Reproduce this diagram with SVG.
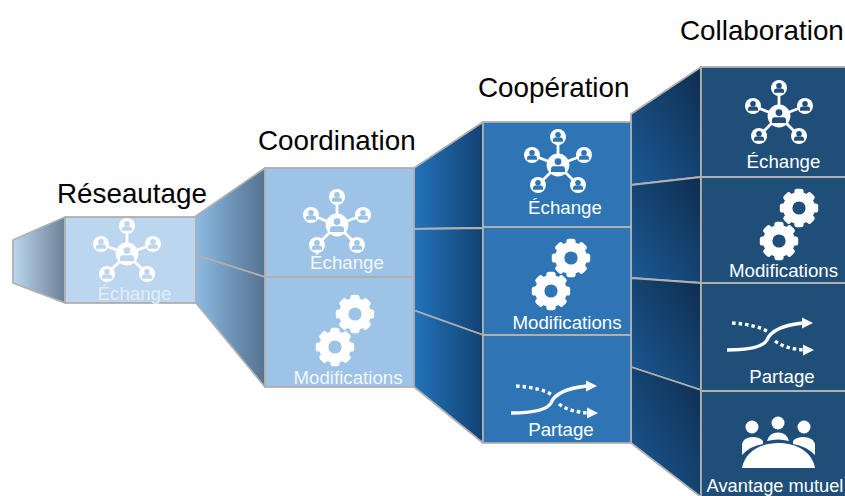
<svg xmlns="http://www.w3.org/2000/svg" xmlns:xlink="http://www.w3.org/1999/xlink" width="845" height="496" viewBox="0 0 845 496">
<style>
text{font-family:"Liberation Sans",Arial,sans-serif}
.title{font-size:27.8px;fill:#000}
.label{font-size:18.7px;fill:#fff;text-anchor:middle}
.panel{stroke:#b0b0b0;stroke-width:1.8;stroke-linejoin:round}
.box{stroke:#b0b0b0;stroke-width:1.8}
.s1{color:#bbd6ee}.s2{color:#9dc3e6}.s3{color:#2e75b6}.s4{color:#1f4e79}
.div{stroke:#b0b0b0;stroke-width:1.8}
</style>
<defs>
<linearGradient id="g1" x1="0" x2="1" y1="0" y2="0"><stop offset="0" stop-color="#bcd6ef"/><stop offset="1" stop-color="#6b8296"/></linearGradient>
<linearGradient id="g2" x1="0" x2="1" y1="0" y2="0"><stop offset="0" stop-color="#8dbae3"/><stop offset="1" stop-color="#53728f"/></linearGradient>
<linearGradient id="g3" x1="0" x2="1" y1="0" y2="0"><stop offset="0" stop-color="#2274bd"/><stop offset="1" stop-color="#124271"/></linearGradient>
<linearGradient id="g4" x1="0" x2="1" y1="1" y2="0"><stop offset="0" stop-color="#1b5a96"/><stop offset="1" stop-color="#0e2d4e"/></linearGradient>
<g id="person"><circle cy="-2.200" r="2.800"/><path d="M-5 4.800v-2q0-2.200 2.200-2.400h5.600q2.200.2 2.200 2.400v2z"/></g>
<g id="sat"><circle r="8" fill="#fff"/><use xlink:href="#person" href="#person" fill="currentColor"/></g>
<g id="hub">
<path d="M0 0V-28M0 0L-26-10M0 0L26-10M0 0L-20 20M0 0L20 20" stroke="#fff" stroke-width="2.800" fill="none"/>
<circle r="11.400" fill="#fff"/>
<g fill="currentColor"><circle cy="-3.400" r="3.400"/><path d="M-7 7v-2.800q0-2.800 2.800-3h8.400q2.800.2 2.800 3v2.800z"/></g>
<use xlink:href="#sat" href="#sat" y="-28"/><use xlink:href="#sat" href="#sat" x="-26" y="-10"/><use xlink:href="#sat" href="#sat" x="26" y="-10"/><use xlink:href="#sat" href="#sat" x="-20" y="20"/><use xlink:href="#sat" href="#sat" x="20" y="20"/>
</g>
<g id="gear"><g fill="#fff"><rect x="-4.600" y="-19.200" width="9.200" height="38.400" rx="2.600"/><rect x="-4.600" y="-19.200" width="9.200" height="38.400" rx="2.600" transform="rotate(45)"/><rect x="-4.600" y="-19.200" width="9.200" height="38.400" rx="2.600" transform="rotate(90)"/><rect x="-4.600" y="-19.200" width="9.200" height="38.400" rx="2.600" transform="rotate(135)"/><circle r="16"/></g><circle r="6.600" fill="currentColor"/></g>
<g id="gears"><use xlink:href="#gear" href="#gear" x="20" y="-16"/><use xlink:href="#gear" href="#gear" y="17"/></g>
<g id="share">
<path d="M-43 13C-20 13-7 10-3 3 1-7 14-12 33-14" fill="none" stroke="#fff" stroke-width="3.400"/>
<path d="M32-19.500L43-14 32-8.500z" fill="#fff"/>
<path d="M-38-14C-22-13-9-10-2-5M5 4C13 10 22 12 34 13" fill="none" stroke="#fff" stroke-width="3.400" stroke-dasharray="3.500 3"/>
<path d="M33 7.500L44 13 33 18.500z" fill="#fff"/>
</g>
</defs>
<rect width="845" height="496" fill="#fff"/>
<g id="connectors">
<path class="panel" fill="url(#g1)" d="M13 240L65 217V303L13 283Z"/>
<path class="panel" fill="url(#g2)" d="M196 216L265 168V277L196 255Z"/>
<path class="panel" fill="url(#g2)" d="M196 255L265 277V387L196 303Z"/>
<path class="panel" fill="url(#g3)" d="M414 168L483 122V228L413 229Z"/>
<path class="panel" fill="url(#g3)" d="M413 229L483 228V335L413 310Z"/>
<path class="panel" fill="url(#g3)" d="M413 310L483 335V443L413 386Z"/>
<path class="panel" fill="url(#g4)" d="M631 114L701 67V177L631 185Z"/>
<path class="panel" fill="url(#g4)" d="M631 185L701 177V283L631 278Z"/>
<path class="panel" fill="url(#g4)" d="M631 278L701 283V390L631 367Z"/>
<path class="panel" fill="url(#g4)" d="M631 367L701 390V497L631 443Z"/>
</g>
<g id="reseautage" class="s1">
<rect class="box" x="65" y="217" width="131" height="86" fill="#bbd6ee"/>
<use xlink:href="#hub" href="#hub" x="127" y="254"/>
<text class="label" x="134.500" y="300" style="fill:#e3edf8">Échange</text>
<text class="title" x="57" y="203">Réseautage</text>
</g>
<g id="coordination" class="s2">
<rect class="box" x="265" y="168" width="149" height="219" fill="#9dc3e6"/>
<line class="div" x1="265" y1="277" x2="414" y2="277"/>
<use xlink:href="#hub" href="#hub" x="337" y="225"/>
<use xlink:href="#gears" href="#gears" x="335" y="330"/>
<text class="label" x="347" y="269" style="fill:#f2f7fc">Échange</text>
<text class="label" x="348" y="384" style="fill:#f2f7fc">Modifications</text>
<text class="title" x="258" y="149.500">Coordination</text>
</g>
<g id="cooperation" class="s3">
<rect class="box" x="483" y="122" width="148" height="321" fill="#2e75b6"/>
<line class="div" x1="483" y1="227" x2="631" y2="227"/>
<line class="div" x1="483" y1="335" x2="631" y2="335"/>
<use xlink:href="#hub" href="#hub" x="558" y="165"/>
<use xlink:href="#gears" href="#gears" x="551" y="274"/>
<use xlink:href="#share" href="#share" x="554" y="400"/>
<text class="label" x="565" y="214">Échange</text>
<text class="label" x="567" y="329">Modifications</text>
<text class="label" x="561" y="436">Partage</text>
<text class="title" x="478" y="97">Coopération</text>
</g>
<g id="collaboration" class="s4">
<rect class="box" x="701" y="67" width="146" height="431" fill="#1f4e79"/>
<line class="div" x1="701" y1="177" x2="845" y2="177"/>
<line class="div" x1="701" y1="283" x2="845" y2="283"/>
<line class="div" x1="701" y1="391" x2="845" y2="391"/>
<use xlink:href="#hub" href="#hub" x="779" y="116"/>
<use xlink:href="#gears" href="#gears" x="779" y="224"/>
<use xlink:href="#share" href="#share" x="770" y="337"/>
<g fill="#fff">
<circle cx="752" cy="427" r="6.500"/><circle cx="778" cy="423" r="6.500"/><circle cx="804" cy="427" r="6.500"/>
<path d="M742 468C745 452 760 443 778.500 443S812 452 815 468Z"/>
<path d="M742 455V444Q743 438 752 437Q760 437 763 441V444Q750 446 742 455Z"/>
<path d="M815 455V444Q814 438 804 437Q796 437 793 441V444Q806 446 815 455Z"/>
<path d="M767 441Q769 432.500 778 432.500Q787 432.500 789 441Q778 438 767 441Z"/>
</g>
<text class="label" x="783.500" y="168">Échange</text>
<text class="label" x="783.500" y="277">Modifications</text>
<text class="label" x="782" y="383">Partage</text>
<text class="label" x="775" y="491.500" style="font-size:18.300px">Avantage mutuel</text>
<text class="title" x="680" y="40">Collaboration</text>
</g>
</svg>
